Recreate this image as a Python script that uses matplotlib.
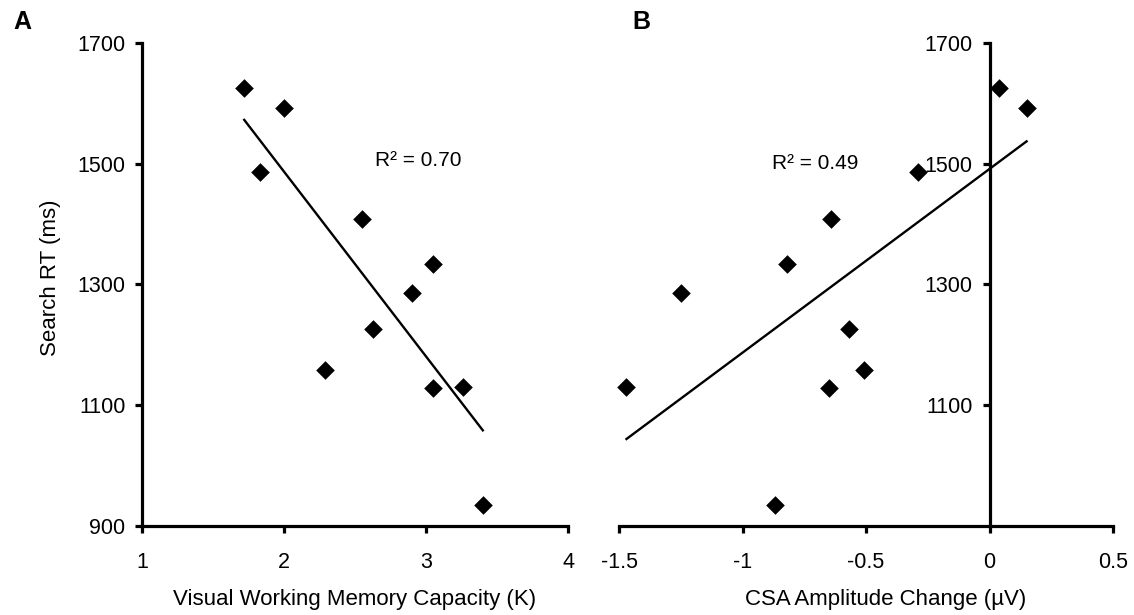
import numpy as np
import matplotlib.pyplot as plt

plt.rcParams['font.family'] = ['Liberation Sans', 'DejaVu Sans']

# search RT per subject (ms), same subjects in both panels
RT = [1625, 1593, 1487, 1409, 1334, 1286, 1226, 1158, 1129, 1131, 934]
# panel A: visual working memory capacity (K)
VWM_K = [1.72, 2.00, 1.83, 2.55, 3.05, 2.90, 2.63, 2.29, 3.05, 3.26, 3.40]
# panel B: CSA amplitude change (uV)
CSA = [0.04, 0.15, -0.29, -0.64, -0.82, -1.25, -0.57, -0.51, -0.65, -1.47, -0.87]

R2_A = 'R² = 0.70'
R2_B = 'R² = 0.49'
TICK_FS = 15.5
LABEL_FS = 16


def trend(ax, x, y):
    """
    Draws the least squares line over the range of the data
    """
    slope, icpt = np.polyfit(x, y, 1)
    xs = np.array([min(x), max(x)])
    ax.plot(xs, slope * xs + icpt, color='black', lw=1.7, clip_on=False)


def style(ax):
    """
    Thick black axis lines with outward ticks
    """
    for side in ['top', 'right']:
        ax.spines[side].set_visible(False)
    for side in ['left', 'bottom']:
        ax.spines[side].set_linewidth(2.3)
    ax.tick_params(axis='both', direction='out', length=5, width=2.3,
                   labelsize=TICK_FS, colors='black')
    ax.tick_params(axis='x', pad=14)
    ax.tick_params(axis='y', pad=7)


fig = plt.figure(figsize=(11.34, 6.15), dpi=100)

# panel A
ax_a = fig.add_axes([0.1252, 0.1447, 0.3757, 0.7854])
ax_a.scatter(VWM_K, RT, marker='D', s=90, color='black', zorder=3,
             clip_on=False, linewidths=0)
trend(ax_a, VWM_K, RT)
ax_a.set_xlim(1, 4)
ax_a.set_ylim(900, 1700)
ax_a.set_xticks([1, 2, 3, 4])
ax_a.set_yticks([900, 1100, 1300, 1500, 1700])
style(ax_a)
ax_a.set_xlabel('Visual Working Memory Capacity (K)', fontsize=LABEL_FS,
                va='center')
ax_a.xaxis.set_label_coords(0.5, -0.153)
ax_a.set_ylabel('Search RT (ms)', fontsize=LABEL_FS, va='center')
ax_a.yaxis.set_label_coords(-0.214, 0.515)
ax_a.text(2.944, 1506, R2_A, fontsize=15, ha='center', va='center')

# panel B, y axis crosses at zero
ax_b = fig.add_axes([0.5459, 0.1447, 0.4356, 0.7854])
ax_b.scatter(CSA, RT, marker='D', s=90, color='black', zorder=3,
             clip_on=False, linewidths=0)
trend(ax_b, CSA, RT)
ax_b.set_xlim(-1.5, 0.5)
ax_b.set_ylim(900, 1700)
ax_b.set_xticks([-1.5, -1, -0.5, 0, 0.5])
ax_b.set_xticklabels(['-1.5', '-1', '-0.5', '0', '0.5'])
ax_b.set_yticks([1100, 1300, 1500, 1700])
style(ax_b)
ax_b.spines['left'].set_position(('data', 0))
ax_b.set_xlabel('CSA Amplitude Change (µV)', fontsize=LABEL_FS, va='center')
ax_b.xaxis.set_label_coords(0.54, -0.153)
ax_b.text(-0.704, 1501, R2_B, fontsize=15, ha='center', va='center')

# panel letters
fig.text(22 / 1134, 1 - 22 / 615, 'A', fontsize=18, fontweight='bold',
         ha='center', va='center')
fig.text(641 / 1134, 1 - 22 / 615, 'B', fontsize=18, fontweight='bold',
         ha='center', va='center')

fig.savefig('out.png', dpi=100)
